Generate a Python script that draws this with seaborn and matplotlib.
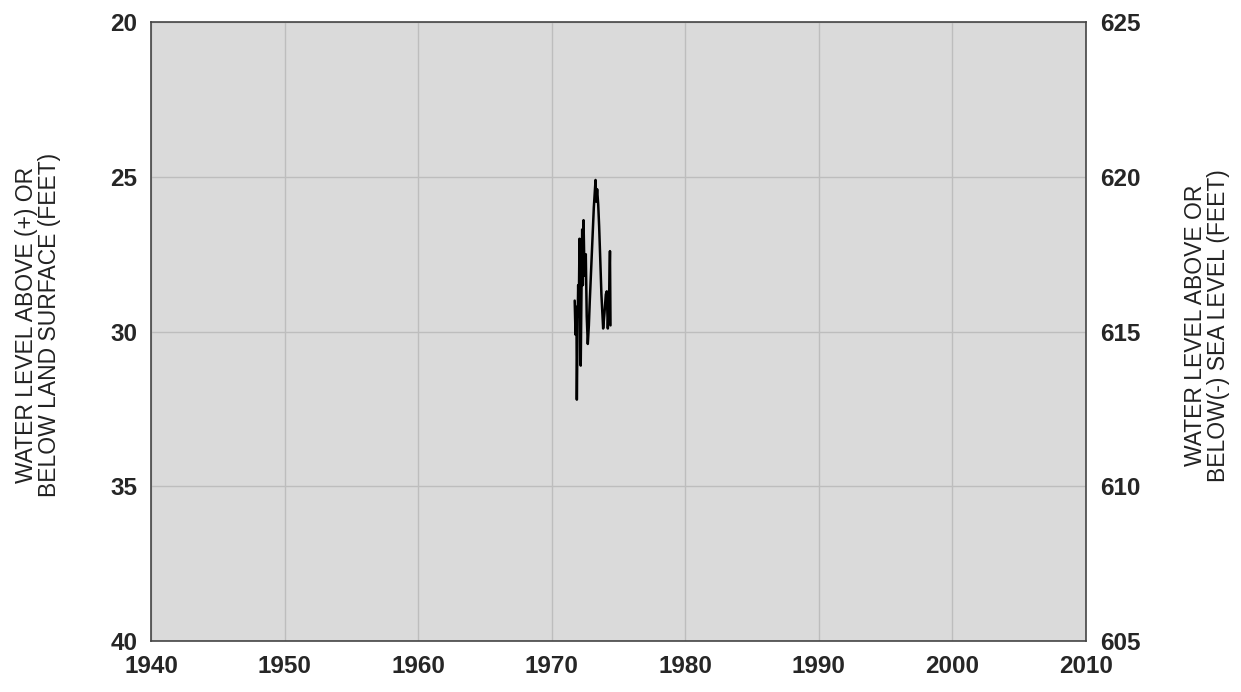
import matplotlib

matplotlib.use("Agg")

import matplotlib.pyplot as plt
import pandas as pd
import seaborn as sns

# water level record (decimal year, depth below land surface in feet)
YEARS = [
    1971.72, 1971.78, 1971.85, 1971.88, 1971.93, 1971.98, 1972.02, 1972.08,
    1972.12, 1972.17, 1972.22, 1972.28, 1972.33, 1972.38, 1972.43, 1972.50,
    1972.55, 1972.62, 1972.70, 1972.78, 1972.85, 1972.95, 1973.05, 1973.15,
    1973.28, 1973.33, 1973.40, 1973.48, 1973.55, 1973.62, 1973.72, 1973.85,
    1973.95, 1974.05, 1974.12, 1974.20, 1974.30, 1974.36, 1974.40,
]
DEPTH_FT = [
    29.0, 30.1, 29.2, 32.2, 30.0, 28.5, 29.5, 27.0,
    28.8, 31.1, 29.0, 26.7, 28.5, 26.4, 27.6, 28.2,
    27.5, 29.5, 30.4, 29.8, 29.0, 28.0, 27.0, 26.0,
    25.1, 25.8, 25.4, 25.9, 26.6, 27.5, 28.8, 29.9,
    29.4, 28.8, 28.7, 29.9, 28.8, 27.4, 29.8,
]
LAND_SURFACE_FT = 645
X_TICKS = list(range(1940, 2011, 10))
LEFT_TICKS = [20, 25, 30, 35, 40]
RIGHT_TICKS = [605, 610, 615, 620, 625]

sns.set_style("white")
plt.rcParams["font.family"] = ["Liberation Sans", "DejaVu Sans"]

df = pd.DataFrame({"year": YEARS, "depth": DEPTH_FT})

fig = plt.figure(figsize=(12.41, 6.92), dpi=100)
ax = fig.add_axes([0.1217, 0.0737, 0.7534, 0.8943])
ax.set_facecolor("#dadada")

sns.lineplot(data=df, x="year", y="depth", color="black", linewidth=1.8, ax=ax, sort=False)

ax.set_xlim(1940, 2010)
ax.set_ylim(40, 20)
ax.set_xticks(X_TICKS)
ax.set_yticks(LEFT_TICKS)
ax.grid(True, color="#bdbdbd", linewidth=1)
ax.set_axisbelow(True)
ax.tick_params(length=0, labelsize=17.5, pad=10)
for lbl in ax.get_xticklabels() + ax.get_yticklabels():
    lbl.set_fontweight("bold")
for spine in ax.spines.values():
    spine.set_color("#444444")
    spine.set_linewidth(1.2)
ax.set_xlabel("")
ax.set_ylabel("")

ax2 = ax.twinx()
ax2.set_ylim(LAND_SURFACE_FT - 40, LAND_SURFACE_FT - 20)
ax2.set_yticks(RIGHT_TICKS)
ax2.tick_params(length=0, labelsize=17.5, pad=10)
for lbl in ax2.get_yticklabels():
    lbl.set_fontweight("bold")
for spine in ax2.spines.values():
    spine.set_visible(False)

fig.text(38 / 1241, 0.53, "WATER LEVEL ABOVE (+) OR\nBELOW LAND SURFACE (FEET)", fontsize=16.5,
         rotation=90, ha="center", va="center", linespacing=1.05, color="#222222")
fig.text(1207 / 1241, 0.53, "WATER LEVEL ABOVE OR\nBELOW(-) SEA LEVEL (FEET)", fontsize=16.5,
         rotation=90, ha="center", va="center", linespacing=1.05, color="#222222")

fig.savefig("out.png", dpi=100)
plt.close(fig)
